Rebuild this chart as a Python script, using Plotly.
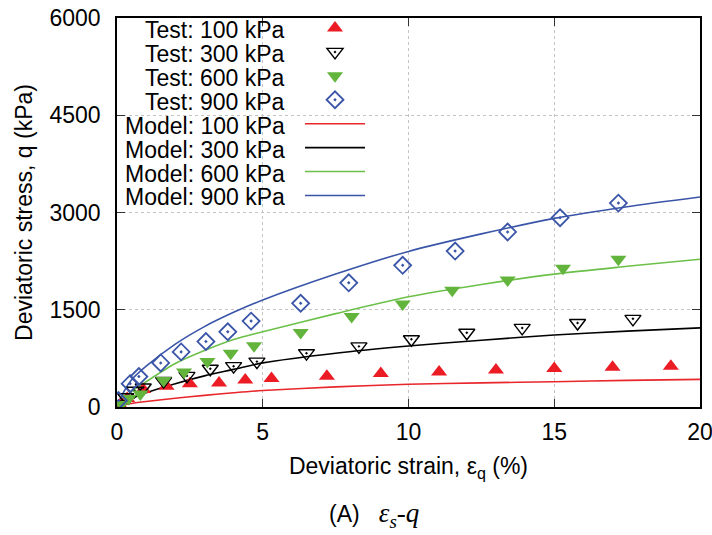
import plotly.graph_objects as go

# Triaxial test data: deviatoric strain (%) vs deviatoric stress q (kPa)
strain_100 = [0.1, 0.35, 0.9, 1.7, 2.5, 3.5, 4.4, 5.3, 7.2, 9.05, 11.05, 13.0, 15.0, 17.0, 19.0]
q_100 = [30, 130, 270, 320, 360, 370, 415, 440, 475, 515, 540, 570, 595, 612, 630]

strain_300 = [0.1, 0.3, 0.6, 0.9, 1.6, 2.4, 3.2, 4.0, 4.8, 6.5, 8.3, 10.1, 12.0, 13.9, 15.8, 17.7]
q_300 = [40, 150, 250, 300, 400, 480, 590, 630, 700, 830, 935, 1045, 1145, 1220, 1295, 1360]

strain_600 = [0.15, 0.4, 0.8, 1.6, 2.3, 3.1, 3.9, 4.7, 6.3, 8.05, 9.8, 11.5, 13.4, 15.3, 17.2]
q_600 = [40, 130, 200, 410, 540, 700, 830, 945, 1150, 1395, 1590, 1800, 1960, 2140, 2280]

strain_900 = [0.05, 0.45, 0.75, 1.5, 2.2, 3.05, 3.8, 4.6, 6.3, 7.95, 9.8, 11.6, 13.4, 15.2, 17.2]
q_900 = [100, 360, 470, 680, 850, 1010, 1160, 1325, 1600, 1915, 2185, 2405, 2700, 2920, 3145]

# Model predictions
strain_model = [0, 0.25, 0.5, 1, 2, 3, 4, 5, 7.5, 10, 12.5, 15, 17.5, 20]
model_100 = [0, 35, 55, 85, 135, 180, 220, 255, 310, 350, 372, 390, 410, 426]
model_300 = [0, 80, 130, 220, 360, 480, 580, 680, 830, 940, 1030, 1110, 1170, 1220]
model_600 = [0, 130, 240, 390, 670, 870, 1040, 1160, 1440, 1700, 1890, 2050, 2170, 2280]
model_900 = [0, 250, 420, 630, 970, 1240, 1460, 1650, 2050, 2400, 2670, 2910, 3090, 3240]

legend_labels = ["Test: 100 kPa", "Test: 300 kPa", "Test: 600 kPa", "Test: 900 kPa",
                 "Model: 100 kPa", "Model: 300 kPa", "Model: 600 kPa", "Model: 900 kPa"]

RED = "#ec1c24"
BLACK = "#000000"
GREEN = "#62b43c"
BLUE = "#3a55a8"

FONT = "Liberation Sans, Arial, sans-serif"

fig = go.Figure()

# model curves (drawn first so markers sit on top)
for rank, (qs, col) in enumerate([(model_100, "#e8262b"), (model_300, BLACK),
                                  (model_600, "#6cc04a"), (model_900, BLUE)]):
    fig.add_trace(go.Scatter(
        x=strain_model, y=qs, mode="lines", name="",
        line=dict(color=col, width=1.6, shape="spline", smoothing=0.8),
        legendrank=5 + rank, hoverinfo="x+y"))

tests = [
    (strain_100, q_100, dict(symbol="triangle-up", size=14, color=RED, line=dict(width=0))),
    (strain_300, q_300, dict(symbol="triangle-down-open-dot", size=14, color=BLACK, line=dict(width=1.4))),
    (strain_600, q_600, dict(symbol="triangle-down", size=14, color=GREEN, line=dict(width=0))),
    (strain_900, q_900, dict(symbol="diamond-open-dot", size=13, color=BLUE, line=dict(width=1.8))),
]
for rank, (xs, ys, mk) in enumerate(tests):
    fig.add_trace(go.Scatter(x=xs, y=ys, mode="markers", name="", marker=mk,
                             legendrank=1 + rank, hoverinfo="x+y"))

# legend labels, right-aligned to the left of the legend keys
row0, row_step = 29.5, 23.9
plot_top, plot_h, plot_l, plot_w = 17, 390, 117, 583
annotations = []
for i, lab in enumerate(legend_labels):
    py = row0 + row_step * i
    annotations.append(dict(
        text=lab, xref="paper", yref="paper",
        x=(287 - plot_l) / plot_w, y=1 - (py - plot_top) / plot_h,
        xanchor="right", yanchor="middle", showarrow=False,
        font=dict(family=FONT, size=23, color="black")))

# panel caption
annotations.append(dict(
    text="(A)   <span style='font-family:Liberation Serif, Times New Roman, serif;font-size:27px'><i>ε<sub>s</sub>-q</i></span>",
    xref="paper", yref="paper", x=(374 - plot_l) / plot_w, y=(407 - 515) / plot_h,
    xanchor="center", yanchor="middle", showarrow=False,
    font=dict(family=FONT, size=23, color="black")))

axis_common = dict(
    showline=True, linecolor="black", linewidth=1.5, mirror="ticks",
    ticks="inside", ticklen=8, tickwidth=1.2, tickcolor="#333333",
    showgrid=True, gridcolor="#c4c4c4", griddash="dot", gridwidth=1,
    zeroline=False, automargin=False, ticklabeloverflow="allow",
    tickfont=dict(family=FONT, size=23, color="black"),
)

fig.update_layout(
    width=712, height=535,
    margin=dict(l=117, r=12, t=17, b=128),
    paper_bgcolor="white", plot_bgcolor="white",
    showlegend=True,
    legend=dict(x=(300 - plot_l) / plot_w, y=1 + 6 / plot_h,
                xanchor="left", yanchor="top",
                bgcolor="rgba(0,0,0,0)", borderwidth=0,
                font=dict(family=FONT, size=16.1), itemwidth=60,
                tracegroupgap=0),
    annotations=annotations,
    xaxis=dict(range=[0, 20], dtick=5, tick0=0,
               title=dict(text="Deviatoric strain, ε<sub>q</sub> (%)", standoff=14,
                          font=dict(family=FONT, size=23, color="black")),
               ticklabelstandoff=4, **axis_common),
    yaxis=dict(range=[0, 6000], dtick=1500, tick0=0,
               title=dict(text="Deviatoric stress, q (kPa)", standoff=10,
                          font=dict(family=FONT, size=23, color="black")),
               ticklabelstandoff=10, **axis_common),
)

fig.write_html("out.html")
